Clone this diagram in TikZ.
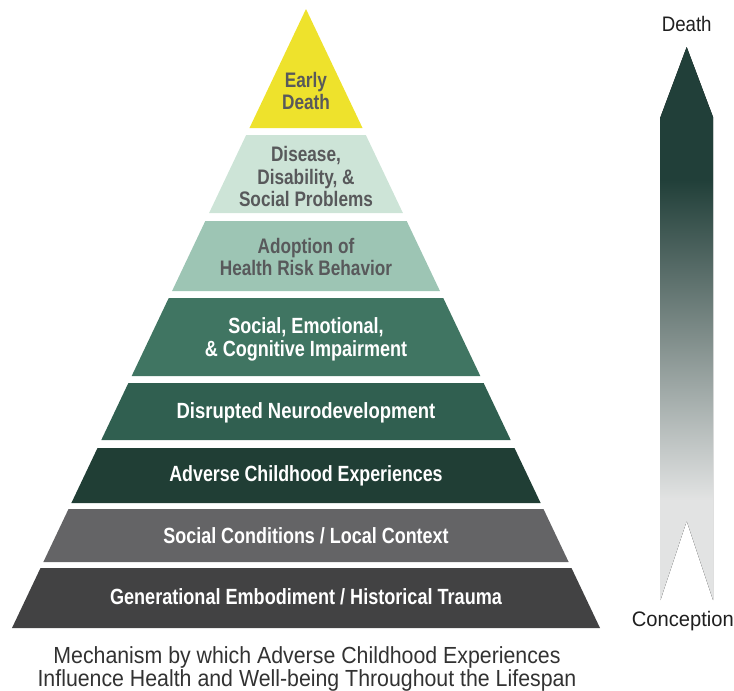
\documentclass[tikz,border=0pt]{standalone}
\usepackage{fontspec}
\setmainfont{Liberation Sans}
\usepackage{graphicx}
\definecolor{lay1}{RGB}{238,226,44}
\definecolor{lay2}{RGB}{205,228,215}
\definecolor{lay3}{RGB}{157,197,180}
\definecolor{lay4}{RGB}{64,117,98}
\definecolor{lay5}{RGB}{48,95,80}
\definecolor{lay6}{RGB}{32,62,53}
\definecolor{lay7}{RGB}{100,100,102}
\definecolor{lay8}{RGB}{66,66,67}
\definecolor{txtgray}{RGB}{88,89,91}
\definecolor{capgray}{RGB}{50,50,50}
\definecolor{arrdark}{RGB}{33,63,57}
\definecolor{arrmid}{RGB}{126,140,137}
\definecolor{arrlight}{RGB}{226,227,227}
\pgfdeclareverticalshading{lifeshade}{100bp}{color(0bp)=(arrlight); color(34bp)=(arrlight); color(49bp)=(arrmid); color(63bp)=(arrdark); color(100bp)=(arrdark)}
\newcommand\ptext[2][0.82]{\scalebox{#1}[1]{\begin{tabular}[t]{@{}c@{}}#2\end{tabular}}}
\newcommand\pyrlayer[3]{%
  \pgfmathsetmacro\hwt{0.474960*(#1-9)}%
  \pgfmathsetmacro\hwb{0.474960*(#2-9)}%
  \fill[#3] ({306-\hwt},#1) -- ({306+\hwt},#1) -- ({306+\hwb},#2) -- ({306-\hwb},#2) -- cycle;}
\tikzset{
  toptxt/.style={anchor=base, inner sep=0pt, text=txtgray, font=\fontsize{21}{22.5}\selectfont\bfseries},
  bottxt/.style={anchor=base, inner sep=0pt, text=white, font=\fontsize{22}{22.5}\selectfont\bfseries},
  captxt/.style={anchor=base, inner sep=0pt, text=capgray, font=\fontsize{23.3}{21.5}\selectfont},
  sidetxt/.style={anchor=base, inner sep=0pt, text=black!88, font=\fontsize{21}{22}\selectfont}
}
\begin{document}
\begin{tikzpicture}[x=1pt,y=-1pt]
\path[use as bounding box] (0,0) rectangle (734,691);
% pyramid layers
\pyrlayer{9}{128}{lay1}
\pyrlayer{135}{213}{lay2}
\pyrlayer{221}{291}{lay3}
\pyrlayer{298}{376}{lay4}
\pyrlayer{383}{440}{lay5}
\pyrlayer{448}{503}{lay6}
\pyrlayer{509}{562}{lay7}
\pyrlayer{568}{628}{lay8}
% layer texts
\node[toptxt] (t1) at (306,87.3) {\ptext{Early\\Death}};
\node[toptxt] (t2) at (306,161.7) {\ptext{Disease,\\Disability, \&\\Social Problems}};
\node[toptxt] (t3) at (306,253.3) {\ptext{Adoption of\\Health Risk Behavior}};
\node[bottxt] (t4) at (306,333.5) {\ptext{Social, Emotional,\\\& Cognitive Impairment}};
\node[bottxt] (t5) at (306,418.5) {\ptext[0.84]{Disrupted Neurodevelopment}};
\node[bottxt] (t6) at (306,481.8) {\ptext[0.81]{Adverse Childhood Experiences}};
\node[bottxt] (t7) at (306,543.8) {\ptext[0.816]{Social Conditions / Local Context}};
\node[bottxt] (t8) at (306,604.3) {\ptext[0.822]{Generational Embodiment / Historical Trauma}};
% caption
\node[captxt] (cap) at (307,663.3) {\ptext[0.915]{Mechanism by which Adverse Childhood Experiences\\Influence Health and Well-being Throughout the Lifespan}};
% lifespan arrow
\fill[shading=lifeshade] (686.7,47) -- (713,117) -- (713,600) -- (686.7,521) -- (660.5,600) -- (660.5,117) -- cycle;
\node[sidetxt] (death) at (686.7,31.7) {\scalebox{0.89}[1]{Death}};
\node[sidetxt] (conc) at (682.9,626) {\scalebox{0.96}[1]{Conception}};
\end{tikzpicture}
\end{document}
